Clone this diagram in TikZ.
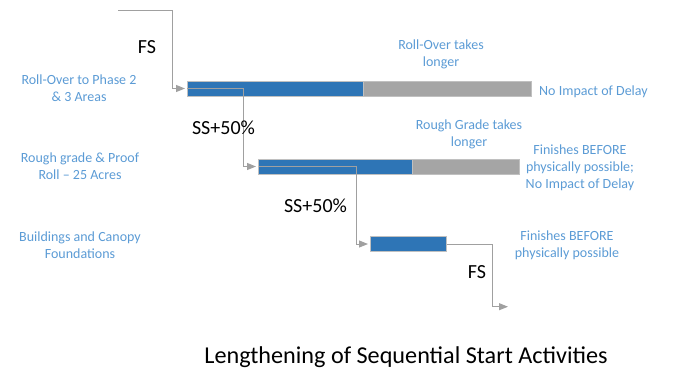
\documentclass[tikz,border=0pt]{standalone}
\usepackage{fontspec}
\setmainfont{Carlito}
\usetikzlibrary{arrows.meta}
\definecolor{barblue}{HTML}{2E75B6}
\definecolor{bargray}{HTML}{A5A5A5}
\definecolor{barline}{HTML}{C0C0C0}
\definecolor{lblue}{HTML}{5B9BD5}
\definecolor{conn}{HTML}{A0A0A0}
\tikzset{
  bluebar/.style={draw=barline, fill=barblue, line width=0.8pt, minimum height=15pt, inner sep=0pt, anchor=west},
  graybar/.style={draw=barline, fill=bargray, line width=0.8pt, minimum height=15pt, inner sep=0pt, anchor=west},
  lbl/.style={text=lblue, font=\fontsize{14}{17}\selectfont, align=center, inner sep=0pt},
  rel/.style={text=black, font=\fontsize{20}{24}\selectfont, inner sep=0pt},
  connector/.style={draw=conn, line width=0.9pt, -{Triangle[length=9pt,width=7pt]}, shorten >=2pt},
}
\begin{document}
\begin{tikzpicture}[x=1pt,y=-1pt]
\useasboundingbox (0,0) rectangle (694,373);
% bars
\node[graybar, minimum width=168pt] (g1) at (363,88.5) {};
\node[bluebar, minimum width=176pt] (b1) at (187,88.5) {};
\node[graybar, minimum width=107pt] (g2) at (412,166.5) {};
\node[bluebar, minimum width=154pt] (b2) at (258,166.5) {};
\node[bluebar, minimum width=76pt] (b3) at (370,244) {};
% connector bend points
\coordinate (s0) at (118,10);
\coordinate (k0) at (172.7,88.5);
\coordinate (k1) at (243,88.5);
\coordinate (k2) at (356,166.5);
\coordinate (k3) at (492.7,306.7);
\coordinate (e3) at (510,306.7);
% connectors
\draw[connector] (s0) -| (k0) -- (b1.west);
\draw[connector] (b1.west) -- (k1) |- (b2.west);
\draw[connector] ([xshift=0.5pt]b2.west) -- (k2) |- (b3.west);
\draw[connector] (b3.east) -| (k3) -- (e3);
% relation labels
\node[rel] (fs1) at (147,47) {FS};
\node[rel] (ss1) at (223.5,128) {SS+50\%};
\node[rel] (ss2) at (315.5,206) {SS+50\%};
\node[rel] (fs2) at (477,272) {FS};
% left labels
\node[lbl] (a1) at (79,88) {Roll-Over to Phase 2\\\& 3 Areas};
\node[lbl] (a2) at (80,166) {Rough grade \& Proof\\Roll – 25 Acres};
\node[lbl] (a3) at (80,245) {Buildings and Canopy\\Foundations};
% right labels
\node[lbl] (r1) at (441,54) {Roll-Over takes\\longer};
\node[lbl, anchor=west] (r2) at (539,92) {No Impact of Delay};
\node[lbl] (r3) at (469,134) {Rough Grade takes\\longer};
\node[lbl] (r4) at (580,168) {Finishes BEFORE\\physically possible;\\No Impact of Delay};
\node[lbl] (r5) at (567,245) {Finishes BEFORE\\physically possible};
% title
\node[text=black, font=\fontsize{24.2}{29}\selectfont, inner sep=0pt] (title) at (406,357) {Lengthening of Sequential Start Activities};
\end{tikzpicture}
\end{document}
